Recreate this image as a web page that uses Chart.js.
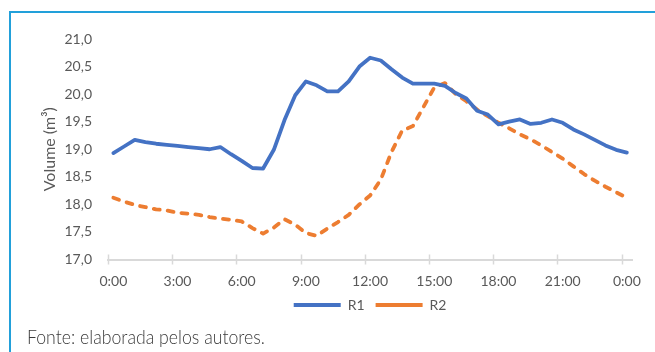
<!DOCTYPE html>
<html>
<head>
<meta charset="utf-8">
<script src="https://cdn.jsdelivr.net/npm/chart.js@4/dist/chart.umd.min.js"></script>
<style>
  html, body { margin: 0; padding: 0; background: #fff; }
  body { width: 655px; height: 352px; position: relative; overflow: hidden; }
  #frame { position: absolute; left: 9px; top: 11px; right: -4px; bottom: -4px;
           border-top: 2px solid #22a0da; border-left: 2px solid #22a0da; }
  #chart { position: absolute; left: 0; top: 0; }
  #source { position: absolute; left: 27px; top: 328px; font-family: Lato, "Open Sans", sans-serif; font-weight: 300;
            font-size: 19px; line-height: 18px; color: #3a3a3a; white-space: nowrap; transform-origin: 0 0; }
</style>
</head>
<body>
<div id="frame"></div>
<canvas id="chart" width="655" height="352"></canvas>
<div id="source">Fonte: elaborada pelos autores.</div>
<script>
// Half-hourly readings over one day (0:00 to 0:00 of the next day)
const times = [
  "0:00", "0:30", "1:00", "1:30", "2:00", "2:30", "3:00", "3:30", "4:00", "4:30",
  "5:00", "5:30", "6:00", "6:30", "7:00", "7:30", "8:00", "8:30", "9:00", "9:30",
  "10:00", "10:30", "11:00", "11:30", "12:00", "12:30", "13:00", "13:30", "14:00", "14:30",
  "15:00", "15:30", "16:00", "16:30", "17:00", "17:30", "18:00", "18:30", "19:00", "19:30",
  "20:00", "20:30", "21:00", "21:30", "22:00", "22:30", "23:00", "23:30", "0:00"
];

// Volume (m³) of each reservoir
const r1 = [
  18.93, 19.05, 19.17, 19.13, 19.10, 19.08, 19.06, 19.04, 19.02, 19.00,
  19.04, 18.91, 18.79, 18.66, 18.65, 18.99, 19.53, 19.98, 20.23, 20.16,
  20.05, 20.05, 20.23, 20.50, 20.66, 20.61, 20.45, 20.30, 20.19, 20.19,
  20.19, 20.15, 20.02, 19.92, 19.70, 19.63, 19.45, 19.50, 19.54, 19.46,
  19.48, 19.54, 19.48, 19.36, 19.27, 19.17, 19.07, 18.99, 18.94
];
const r2 = [
  18.12, 18.05, 17.99, 17.95, 17.91, 17.89, 17.85, 17.83, 17.81, 17.77,
  17.74, 17.72, 17.69, 17.57, 17.47, 17.58, 17.73, 17.63, 17.48, 17.43,
  17.56, 17.68, 17.81, 18.00, 18.16, 18.45, 18.95, 19.34, 19.42, 19.77,
  20.12, 20.20, 20.00, 19.87, 19.72, 19.60, 19.48, 19.38, 19.27, 19.18,
  19.07, 18.95, 18.83, 18.69, 18.55, 18.43, 18.32, 18.22, 18.12
];

// Y-axis range and step
const yMin = 17;
const yMax = 21;
const yStep = 0.5;
// Every 6th half-hour (3 h) gets a label and a tick mark
const labelEvery = 6;

const FONT = "Lato, 'Open Sans', sans-serif";
const GREY = "#595959";

// Tick marks crossing the category axis between groups of 3 h
const crossTicks = {
  id: "crossTicks",
  afterDraw(chart) {
    const x = chart.scales.x;
    const y = chart.scales.y.getPixelForValue(yMin);
    const half = (x.getPixelForValue(1) - x.getPixelForValue(0)) / 2;
    const ctx = chart.ctx;
    ctx.save();
    ctx.strokeStyle = "#d9d9d9";
    ctx.lineWidth = 1.5;
    ctx.beginPath();
    for (let i = 0; i < times.length; i += labelEvery) {
      const px = Math.round(x.getPixelForValue(i) - half) + 0.5;
      ctx.moveTo(px, y - 5);
      ctx.lineTo(px, y + 5);
    }
    ctx.stroke();
    ctx.restore();
  }
};

new Chart(document.getElementById("chart"), {
  type: "line",
  data: {
    labels: times,
    datasets: [
      {
        label: "R1",
        data: r1,
        borderColor: "#4472c4",
        backgroundColor: "#4472c4",
        borderWidth: 3.8,
        borderCapStyle: "round",
        borderJoinStyle: "round",
        pointRadius: 0,
        tension: 0
      },
      {
        label: "R2",
        data: r2,
        borderColor: "#ed7d31",
        backgroundColor: "#ed7d31",
        borderWidth: 3.8,
        borderDash: [6, 8],
        borderCapStyle: "round",
        borderJoinStyle: "round",
        pointRadius: 0,
        tension: 0
      }
    ]
  },
  options: {
    responsive: false,
    animation: false,
    layout: { padding: { left: 36, right: 21, top: 39, bottom: 30 } },
    plugins: {
      tooltip: { enabled: false },
      legend: {
        position: "bottom",
        fullSize: false,
        labels: {
          usePointStyle: true,
          pointStyle: "line",
          pointStyleWidth: 47,
          padding: 11,
          color: GREY,
          font: { family: FONT, size: 14 }
        }
      }
    },
    scales: {
      x: {
        type: "category",
        offset: true,
        grid: { display: false, drawTicks: false, offset: true },
        border: { display: true, color: "#d9d9d9", width: 2 },
        ticks: {
          autoSkip: false,
          maxRotation: 0,
          padding: 14,
          color: GREY,
          font: { family: FONT, size: 14 },
          callback: (v, i) => (i % labelEvery === 0 ? times[i] : "")
        },
        afterFit: (s) => { s.height = 27.5; }
      },
      y: {
        min: yMin,
        max: yMax,
        grid: { display: false, drawTicks: false },
        border: { display: false },
        ticks: {
          stepSize: yStep,
          padding: 16,
          color: GREY,
          font: { family: FONT, size: 14 },
          callback: (v) => v.toFixed(1).replace(".", ",")
        },
        title: {
          display: true,
          text: "Volume (m³)",
          color: GREY,
          padding: { top: 4, bottom: 0 },
          font: { family: FONT, size: 16 }
        },
        afterFit: (s) => { s.width = 72; }
      }
    }
  },
  plugins: [crossTicks]
});

// Fit the source note to its line length
const src = document.getElementById("source");
const w = src.getBoundingClientRect().width;
if (w > 0) src.style.transform = "scaleX(" + (238 / w) + ")";
</script>
</body>
</html>
